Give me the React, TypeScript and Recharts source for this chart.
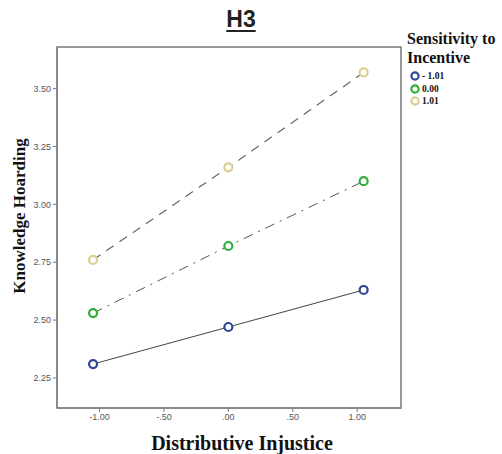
import React from 'react';
import { LineChart, Line, XAxis, YAxis, ReferenceArea } from 'recharts';

const injustice = [-1.05, 0, 1.05];
const lowSensitivity = [2.31, 2.47, 2.63];
const meanSensitivity = [2.53, 2.82, 3.1];
const highSensitivity = [2.76, 3.16, 3.57];

const xTicks = [-1, -0.5, 0, 0.5, 1];
const xTickLabels = ['-1.00', '-.50', '.00', '.50', '1.00'];
const yTicks = [2.25, 2.5, 2.75, 3.0, 3.25, 3.5];

const legendItems = [
  { label: '- 1.01', color: '#2f4597' },
  { label: '0.00', color: '#2fae3a' },
  { label: '1.01', color: '#d9cf92' },
];

const data = injustice.map((x, i) => ({
  x,
  low: lowSensitivity[i],
  mean: meanSensitivity[i],
  high: highSensitivity[i],
}));

const X_DOMAIN: [number, number] = [-1.33, 1.34];
const Y_DOMAIN: [number, number] = [2.12, 3.68];
const axisGray = '#7a7a7a';
const serif = '"Liberation Serif", "Times New Roman", serif';

const dotStyle = (color: string) => ({
  r: 4,
  stroke: color,
  strokeWidth: 2.2,
  strokeDasharray: '0',
  fill: '#fff',
});

export default function App() {
  const tick = { fill: '#555', fontSize: 9, fontFamily: 'Arial, "Liberation Sans", sans-serif' };
  return (
    <div style={{ position: 'absolute', left: 0, top: 0, width: 502, height: 454, background: '#fff' }}>
      <LineChart width={502} height={454} data={data} margin={{ top: 47, right: 101, left: 0, bottom: 0 }}>
        <XAxis
          dataKey="x"
          type="number"
          domain={X_DOMAIN}
          ticks={xTicks}
          tickFormatter={(v) => xTickLabels[xTicks.indexOf(v)]}
          stroke={axisGray}
          tickSize={4}
          tick={tick}
          height={46}
          allowDataOverflow
        />
        <YAxis
          type="number"
          domain={Y_DOMAIN}
          ticks={yTicks}
          tickFormatter={(v) => v.toFixed(2)}
          stroke={axisGray}
          tickSize={4}
          tick={tick}
          width={57}
          allowDataOverflow
        />
        <ReferenceArea
          x1={X_DOMAIN[0]}
          x2={X_DOMAIN[1]}
          y1={Y_DOMAIN[0]}
          y2={Y_DOMAIN[1]}
          fill="none"
          stroke={axisGray}
          strokeWidth={1.5}
        />
        <Line
          dataKey="low"
          type="linear"
          stroke="#444"
          strokeWidth={1}
          dot={dotStyle(legendItems[0].color)}
          isAnimationActive={false}
        />
        <Line
          dataKey="mean"
          type="linear"
          stroke="#555"
          strokeWidth={1}
          strokeDasharray="10 6 2 6"
          dot={dotStyle(legendItems[1].color)}
          isAnimationActive={false}
        />
        <Line
          dataKey="high"
          type="linear"
          stroke="#666"
          strokeWidth={1.2}
          strokeDasharray="9 7"
          dot={dotStyle(legendItems[2].color)}
          isAnimationActive={false}
        />
      </LineChart>

      {/* title */}
      <div
        style={{
          position: 'absolute',
          left: 191,
          width: 100,
          top: 6,
          textAlign: 'center',
          fontFamily: 'Arial, "Liberation Sans", sans-serif',
          fontSize: 23,
          fontWeight: 'bold',
          color: '#222',
          textDecoration: 'underline',
          textUnderlineOffset: 3,
        }}
      >
        H3
      </div>

      {/* y axis title */}
      <div
        style={{
          position: 'absolute',
          left: 20,
          top: 216,
          transform: 'translate(-50%, -50%) rotate(-90deg)',
          whiteSpace: 'nowrap',
          fontFamily: serif,
          fontSize: 17,
          fontWeight: 'bold',
          color: '#111',
        }}
      >
        Knowledge Hoarding
      </div>

      {/* x axis title */}
      <div
        style={{
          position: 'absolute',
          left: 242,
          top: 443,
          transform: 'translate(-50%, -50%)',
          whiteSpace: 'nowrap',
          fontFamily: serif,
          fontSize: 20,
          fontWeight: 'bold',
          color: '#111',
        }}
      >
        Distributive Injustice
      </div>

      {/* legend */}
      <div style={{ position: 'absolute', left: 407, top: 29, fontFamily: serif, color: '#111' }}>
        <div style={{ fontSize: 16, fontWeight: 'bold', lineHeight: '19px', whiteSpace: 'nowrap' }}>
          Sensitivity to
          <br />
          Incentive
        </div>
        <div style={{ marginTop: 3, marginLeft: 2 }}>
          {legendItems.map((item) => (
            <div key={item.label} style={{ display: 'flex', alignItems: 'center', height: 12.5 }}>
              <svg width={12} height={12}>
                <circle cx={6} cy={6} r={3.6} fill="#fff" stroke={item.color} strokeWidth={2.2} />
              </svg>
              <span style={{ fontSize: 9.5, fontWeight: 'bold', marginLeft: 1 }}>{item.label}</span>
            </div>
          ))}
        </div>
      </div>
    </div>
  );
}
